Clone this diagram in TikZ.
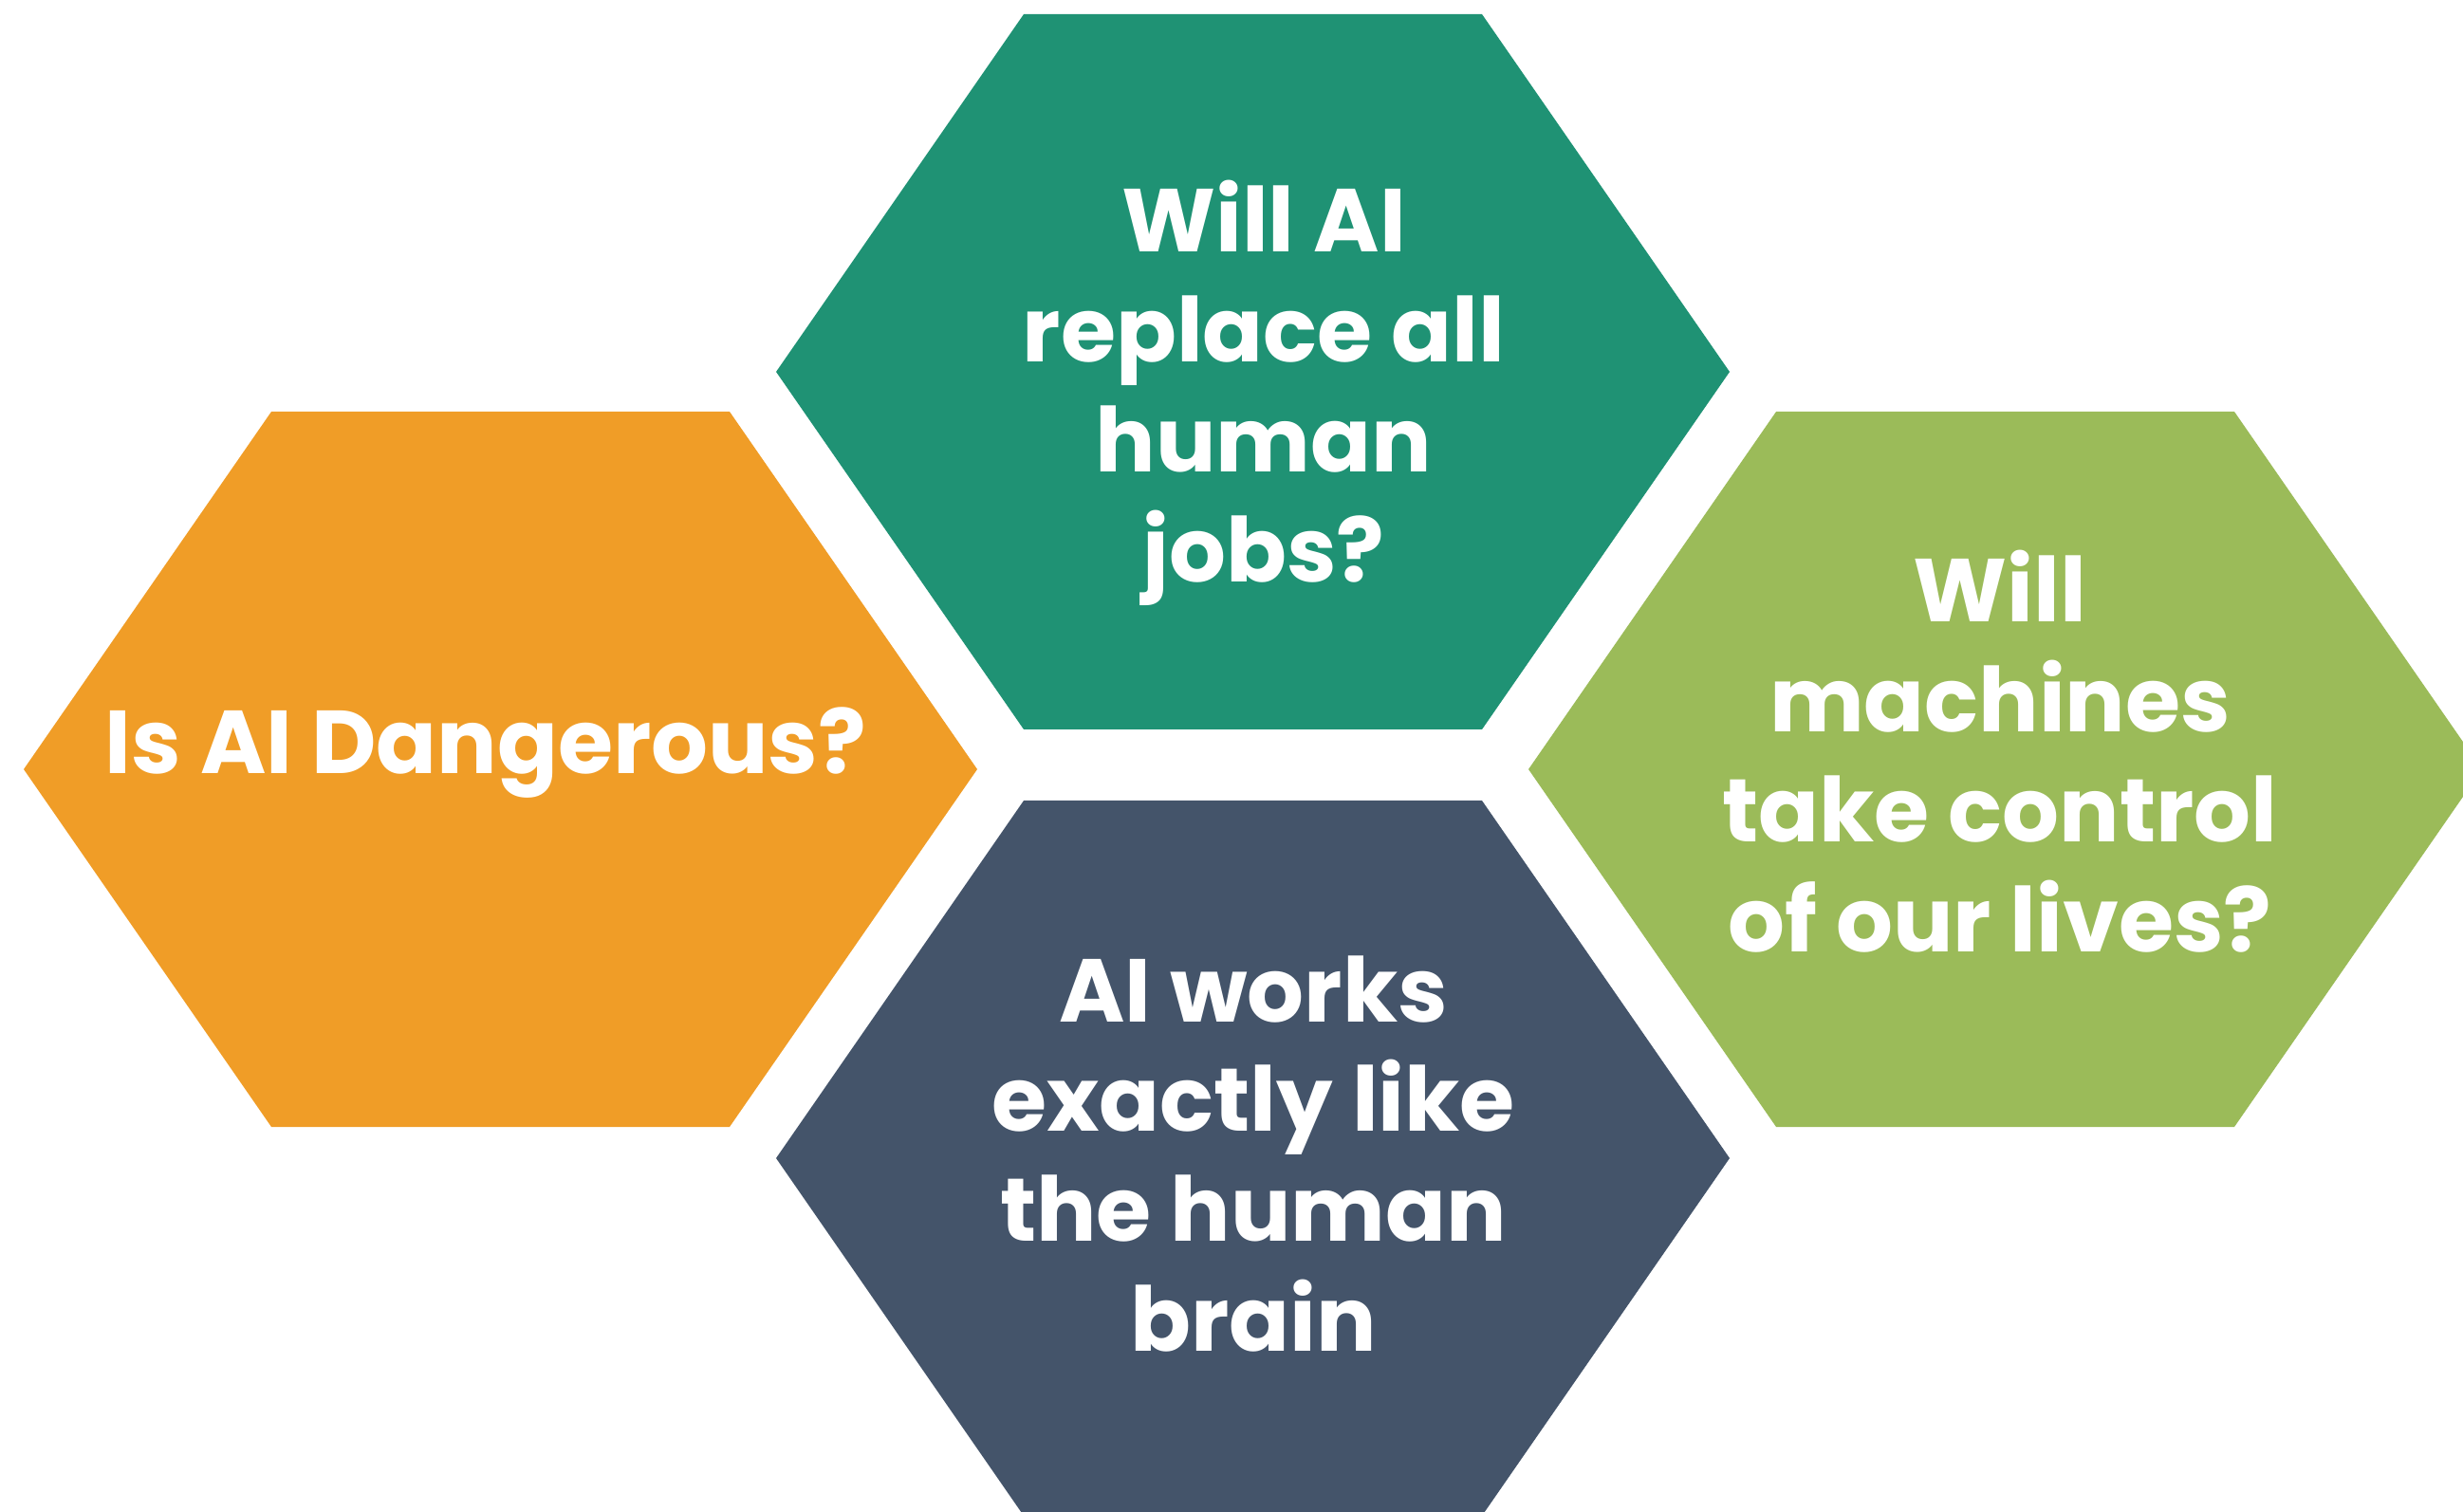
\documentclass[tikz,border=0pt]{standalone}
\usepackage{fontspec}
\setmainfont{Poppins}
\usepackage{tikz}
\usetikzlibrary{calc}
\usetikzlibrary{positioning}
\definecolor{aiorange}{RGB}{240,157,39}
\definecolor{aiteal}{RGB}{31,146,116}
\definecolor{aigreen}{RGB}{155,187,89}
\definecolor{aislate}{RGB}{68,84,106}

\begin{document}
\begin{tikzpicture}[hexlabel/.style={text=white, font=\bfseries\fontsize{26.8}{33}\selectfont, align=center, inner sep=0pt}]
\useasboundingbox (0,0) rectangle (25.96,15.93);
\clip (0,0) rectangle (25.96,15.93);
\foreach \n/\x/\y/\c in {hDanger/5.275/7.82/aiorange, hJobs/13.205/12.01/aiteal, hControl/21.135/7.82/aigreen, hBrain/13.205/3.72/aislate} {
\coordinate (\n) at (\x,\y);
\fill[\c] ($(\n)+(-5.025,0)$) -- ++(2.61,3.77) -- ++(4.83,0) -- ++(2.61,-3.77) -- ++(-2.61,-3.77) -- ++(-4.83,0) -- cycle;
}
\node (qDanger) at (5.12,7.77) [hexlabel, anchor=base] {Is AI Dangerous?};
\node (qJobs) at (13.32,11.785) [hexlabel] {Will AI\\replace all\\human\\jobs?};
\node (qControl) at (21.08,8.01) [hexlabel] {Will\\machines\\take control\\of our lives?};
\node (qBrain) at (13.21,3.765) [hexlabel] {AI works\\exactly like\\the human\\brain};
\end{tikzpicture}
\end{document}
